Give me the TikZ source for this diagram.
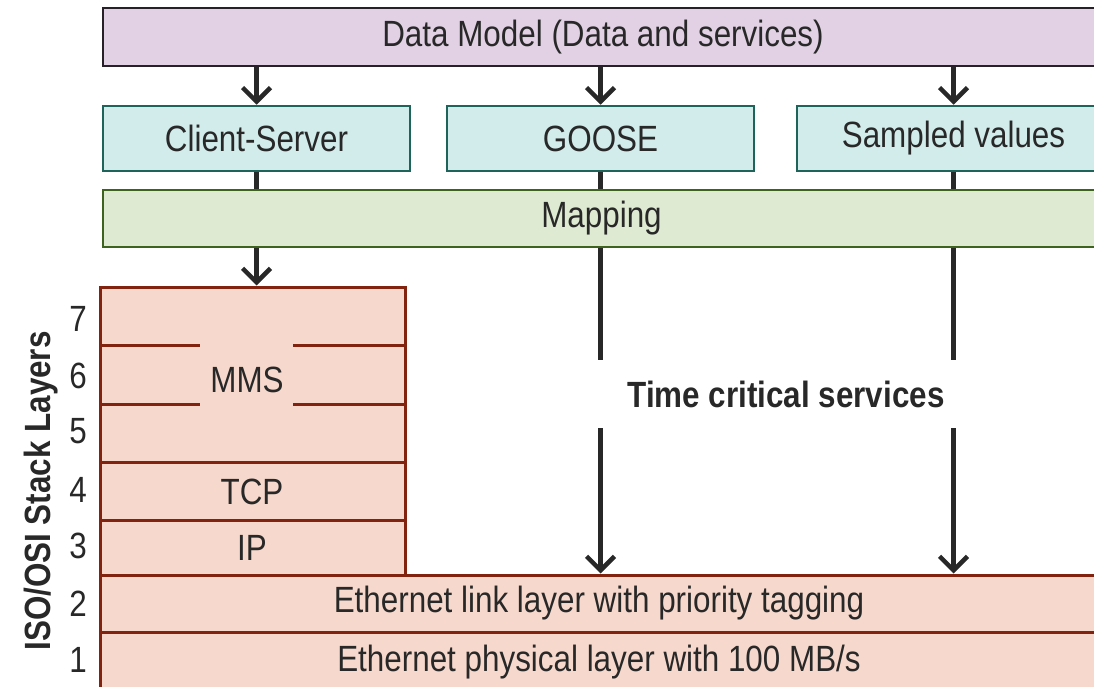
\documentclass[tikz,border=0pt]{standalone}
\usepackage{fontspec}
\setmainfont{Liberation Sans}[FakeStretch=0.86]
\usepackage{xcolor}
\definecolor{model-lilac}{RGB}{226,209,228}
\definecolor{model-edge}{RGB}{40,32,40}
\definecolor{service-cyan}{RGB}{210,236,236}
\definecolor{service-edge}{RGB}{30,100,90}
\definecolor{map-green}{RGB}{222,234,209}
\definecolor{map-edge}{RGB}{60,100,30}
\definecolor{osi-peach}{RGB}{246,216,204}
\definecolor{osi-edge}{RGB}{130,35,15}
\definecolor{ink}{RGB}{40,40,40}
\usepackage{tikz}
\usetikzlibrary{arrows.meta}

\begin{document}
\begin{tikzpicture}[x=1pt,y=-1pt,
	>={Straight Barb[length=14pt,width=28pt]},
	font=\fontsize{36.5}{40}\selectfont, text=ink,
	box/.style={draw,line width=2.5pt,inner sep=0pt},
	service/.style={box,fill=service-cyan,draw=service-edge,minimum width=307pt,minimum height=65pt},
	layer/.style={box,fill=osi-peach,draw=osi-edge,line width=3pt},
	conn/.style={line width=4.5pt,draw=ink},
	]
	
	\useasboundingbox (0,0) rectangle (1094,687);
	\clip (0,0) rectangle (1094,687);
	
	% top part
	\node[box,fill=model-lilac,draw=model-edge,minimum width=1000pt,minimum height=58pt]
		(model) at (603,37) {Data Model (Data and services)};
	\node[service] (cs) at (256.5,138.5) {Client-Server};
	\node[service] (goose) at (600.5,138.5) {GOOSE};
	\node[service,minimum width=313pt] (sv) at (953.5,138.5) {Sampled values};
	\node[box,fill=map-green,draw=map-edge,minimum width=997pt,minimum height=57pt]
		(map) at (601.5,218.5) {Mapping};
	
	% stack
	\node[layer,minimum width=305pt,minimum height=288pt] (stack) at (252.5,431) {};
	\node[layer,minimum width=998pt,minimum height=57pt] (link) at (599,603.5)
		{Ethernet link layer with priority tagging};
	\node[layer,minimum width=998pt,minimum height=60pt] (phys) at (599,662)
		{Ethernet physical layer with 100 MB/s};
	
	\draw[osi-edge,line width=3pt]
		(100,345) -- (200,345) (293,345) -- (405,345)
		(100,404) -- (200,404) (293,404) -- (405,404)
		(100,462) -- (405,462)
		(100,520) -- (405,520);
	
	\node (mms) at (247,380) {MMS};
	\node (tcp) at (252,492) {TCP};
	\node (ip) at (252,548) {IP};
	
	\path
		(78,319) node (l7) {7}
		(78,376) node (l6) {6}
		(78,431) node (l5) {5}
		(78,490) node (l4) {4}
		(78,546) node (l3) {3}
		(78,604) node (l2) {2}
		(78,660) node (l1) {1};
	\node[rotate=90,font=\fontsize{36.5}{40}\selectfont\bfseries] (osi) at (41,491) {ISO/OSI Stack Layers};
	
	\node[inner sep=0pt,minimum height=68pt,font=\fontsize{36.5}{40}\selectfont\bfseries]
		(tcs) at (786,394) {Time critical services};
	
	% connectors
	\draw[->,conn] (model.south -| cs) -- (cs.north);
	\draw[->,conn] (model.south -| goose) -- (goose.north);
	\draw[->,conn] (model.south -| sv) -- (sv.north);
	
	\draw[conn] (cs.south) -- (cs |- map.north);
	\draw[conn] (goose.south) -- (goose |- map.north);
	\draw[conn] (sv.south) -- (sv |- map.north);
	
	\draw[->,conn] (cs |- map.south) -- (cs |- stack.north);
	\draw[conn] (goose |- map.south) -- (goose |- tcs.north);
	\draw[conn] (sv |- map.south) -- (sv |- tcs.north);
	\draw[->,conn] (goose |- tcs.south) -- (goose |- link.north);
	\draw[->,conn] (sv |- tcs.south) -- (sv |- link.north);
	
\end{tikzpicture}
\end{document}
